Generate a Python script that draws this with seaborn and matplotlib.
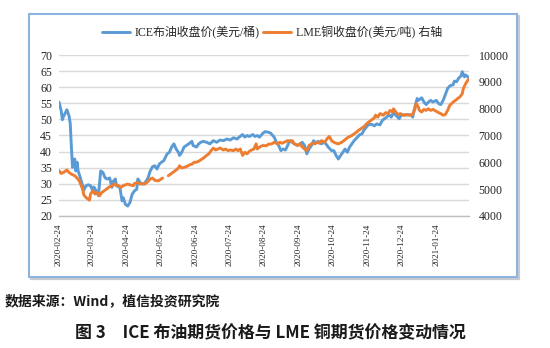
import numpy as np
import pandas as pd
import matplotlib
matplotlib.use("Agg")
import matplotlib.pyplot as plt
import matplotlib.dates as mdates
from matplotlib.lines import Line2D
from matplotlib.patches import Rectangle
import seaborn as sns

# ICE Brent front-month close, USD/bbl
brent_dates = [
    "2020-02-24", "2020-02-26", "2020-02-27", "2020-02-28", "2020-03-01", "2020-03-02",
    "2020-03-04", "2020-03-05", "2020-03-06", "2020-03-07", "2020-03-09", "2020-03-10",
    "2020-03-11", "2020-03-12", "2020-03-14", "2020-03-16", "2020-03-17", "2020-03-19",
    "2020-03-21", "2020-03-23", "2020-03-25", "2020-03-26", "2020-03-28", "2020-03-30",
    "2020-04-01", "2020-04-03", "2020-04-05", "2020-04-07", "2020-04-09", "2020-04-11",
    "2020-04-12", "2020-04-14", "2020-04-15", "2020-04-18", "2020-04-20", "2020-04-21",
    "2020-04-23", "2020-04-25", "2020-04-27", "2020-04-29", "2020-05-01", "2020-05-03",
    "2020-05-04", "2020-05-06", "2020-05-08", "2020-05-10", "2020-05-13", "2020-05-15",
    "2020-05-17", "2020-05-19", "2020-05-21", "2020-05-23", "2020-05-25", "2020-05-27",
    "2020-05-30", "2020-06-01", "2020-06-03", "2020-06-05", "2020-06-07", "2020-06-09",
    "2020-06-10", "2020-06-12", "2020-06-14", "2020-06-16", "2020-06-19", "2020-06-21",
    "2020-06-22", "2020-06-25", "2020-06-27", "2020-06-29", "2020-07-01", "2020-07-04",
    "2020-07-07", "2020-07-10", "2020-07-13", "2020-07-16", "2020-07-19", "2020-07-22",
    "2020-07-25", "2020-07-28", "2020-07-31", "2020-08-02", "2020-08-05", "2020-08-07",
    "2020-08-09", "2020-08-11", "2020-08-14", "2020-08-16", "2020-08-18", "2020-08-20",
    "2020-08-23", "2020-08-25", "2020-08-28", "2020-08-30", "2020-09-02", "2020-09-04",
    "2020-09-06", "2020-09-08", "2020-09-10", "2020-09-12", "2020-09-14", "2020-09-16",
    "2020-09-18", "2020-09-20", "2020-09-23", "2020-09-25", "2020-09-27", "2020-09-29",
    "2020-10-01", "2020-10-03", "2020-10-06", "2020-10-07", "2020-10-09", "2020-10-11",
    "2020-10-14", "2020-10-16", "2020-10-18", "2020-10-20", "2020-10-23", "2020-10-25",
    "2020-10-27", "2020-10-29", "2020-10-31", "2020-11-02", "2020-11-04", "2020-11-06",
    "2020-11-08", "2020-11-10", "2020-11-12", "2020-11-15", "2020-11-17", "2020-11-19",
    "2020-11-21", "2020-11-24", "2020-11-26", "2020-11-28", "2020-11-30", "2020-12-02",
    "2020-12-05", "2020-12-07", "2020-12-09", "2020-12-11", "2020-12-13", "2020-12-15",
    "2020-12-17", "2020-12-19", "2020-12-22", "2020-12-24", "2020-12-27", "2020-12-30",
    "2021-01-02", "2021-01-03", "2021-01-05", "2021-01-07", "2021-01-08", "2021-01-11",
    "2021-01-13", "2021-01-15", "2021-01-17", "2021-01-19", "2021-01-21", "2021-01-24",
    "2021-01-26", "2021-01-28", "2021-01-30", "2021-02-01", "2021-02-03", "2021-02-05",
    "2021-02-08", "2021-02-09", "2021-02-11", "2021-02-13", "2021-02-15", "2021-02-16",
    "2021-02-18", "2021-02-19", "2021-02-22",
]
brent_close = [
    55.4, 52.6, 49.9, 50.9, 52.3, 53.0,
    51.0, 48.6, 41.4, 35.1, 37.7, 34.0,
    36.7, 34.0, 31.8, 29.4, 28.0, 29.4,
    29.7, 29.4, 27.8, 29.0, 27.8, 26.3,
    34.0, 33.5, 31.8, 31.5, 31.8, 28.9,
    30.7, 31.5, 29.4, 28.9, 24.7, 25.7,
    23.6, 23.1, 24.2, 26.8, 27.8, 28.3,
    31.5, 30.4, 29.9, 30.1, 31.8, 34.0,
    35.3, 35.6, 34.6, 36.1, 36.7, 37.2,
    39.3, 39.8, 41.4, 42.4, 40.8, 39.8,
    38.8, 39.8, 41.4, 41.9, 42.6, 43.2,
    41.9, 41.4, 42.4, 42.9, 43.2, 42.9,
    42.4, 43.4, 42.9, 43.6, 43.4, 43.9,
    43.6, 44.3, 43.9, 44.5, 45.3, 44.5,
    45.0, 44.7, 45.3, 44.7, 45.0, 44.5,
    45.7, 46.2, 46.0, 45.7, 44.5, 42.9,
    41.9, 40.3, 40.8, 40.5, 41.9, 43.4,
    42.9, 42.4, 41.9, 42.4, 42.9, 41.9,
    39.3, 40.8, 42.4, 43.4, 42.6, 43.2,
    42.4, 42.9, 42.4, 41.4, 40.3, 40.3,
    38.8, 37.7, 38.8, 39.8, 40.8, 39.8,
    41.4, 42.4, 43.4, 44.5, 45.3, 45.5,
    46.8, 48.1, 48.5, 48.4, 48.0, 48.6,
    48.3, 49.7, 50.2, 50.7, 51.5, 50.7,
    52.1, 51.3, 50.2, 51.5, 51.3, 51.5,
    51.3, 50.7, 53.9, 56.5, 55.9, 56.7,
    55.4, 54.6, 55.4, 55.9, 55.4, 55.9,
    54.9, 54.6, 55.9, 57.7, 59.6, 60.4,
    60.8, 61.9, 61.7, 62.9, 63.5, 64.8,
    63.2, 63.8, 62.9,
]

# LME copper close, USD/t (NaN = no print)
copper_dates = [
    "2020-02-24", "2020-02-26", "2020-02-29", "2020-03-02", "2020-03-04", "2020-03-06",
    "2020-03-09", "2020-03-11", "2020-03-13", "2020-03-14", "2020-03-16", "2020-03-17",
    "2020-03-19", "2020-03-20", "2020-03-22", "2020-03-23", "2020-03-25", "2020-03-27",
    "2020-03-29", "2020-03-31", "2020-04-02", "2020-04-04", "2020-04-06", "2020-04-08",
    "2020-04-11", "2020-04-13", "2020-04-15", "2020-04-17", "2020-04-19", "2020-04-21",
    "2020-04-23", "2020-04-25", "2020-04-28", "2020-04-30", "2020-05-01", "2020-05-04",
    "2020-05-06", "2020-05-08", "2020-05-10", "2020-05-13", "2020-05-15", "2020-05-17",
    "2020-05-19", "2020-05-22", "2020-05-24", "2020-05-26", "2020-05-28", "2020-05-31",
    "2020-06-02", "2020-06-04", "2020-06-07", "2020-06-09", "2020-06-10", "2020-06-12",
    "2020-06-14", "2020-06-16", "2020-06-19", "2020-06-21", "2020-06-23", "2020-06-25",
    "2020-06-27", "2020-06-30", "2020-07-02", "2020-07-04", "2020-07-06", "2020-07-08",
    "2020-07-10", "2020-07-12", "2020-07-14", "2020-07-16", "2020-07-19", "2020-07-21",
    "2020-07-23", "2020-07-25", "2020-07-28", "2020-07-30", "2020-08-01", "2020-08-03",
    "2020-08-05", "2020-08-07", "2020-08-09", "2020-08-11", "2020-08-13", "2020-08-15",
    "2020-08-17", "2020-08-18", "2020-08-20", "2020-08-23", "2020-08-26", "2020-08-28",
    "2020-08-31", "2020-09-02", "2020-09-05", "2020-09-07", "2020-09-09", "2020-09-11",
    "2020-09-14", "2020-09-16", "2020-09-18", "2020-09-20", "2020-09-23", "2020-09-25",
    "2020-09-27", "2020-09-29", "2020-10-01", "2020-10-03", "2020-10-06", "2020-10-08",
    "2020-10-10", "2020-10-12", "2020-10-14", "2020-10-17", "2020-10-19", "2020-10-21",
    "2020-10-23", "2020-10-25", "2020-10-27", "2020-10-29", "2020-11-01", "2020-11-03",
    "2020-11-05", "2020-11-07", "2020-11-10", "2020-11-12", "2020-11-14", "2020-11-16",
    "2020-11-18", "2020-11-21", "2020-11-23", "2020-11-25", "2020-11-27", "2020-11-30",
    "2020-12-01", "2020-12-03", "2020-12-05", "2020-12-08", "2020-12-10", "2020-12-12",
    "2020-12-14", "2020-12-16", "2020-12-17", "2020-12-19", "2020-12-21", "2020-12-23",
    "2020-12-25", "2020-12-28", "2020-12-31", "2021-01-03", "2021-01-05", "2021-01-06",
    "2021-01-08", "2021-01-09", "2021-01-11", "2021-01-13", "2021-01-15", "2021-01-17",
    "2021-01-19", "2021-01-21", "2021-01-24", "2021-01-26", "2021-01-28", "2021-01-30",
    "2021-02-01", "2021-02-03", "2021-02-05", "2021-02-08", "2021-02-10", "2021-02-12",
    "2021-02-14", "2021-02-16", "2021-02-17", "2021-02-19", "2021-02-21", "2021-02-22",
]
copper_close = [
    5690, 5584, 5650, 5716, 5620, 5560,
    5500, 5416, 5308, 5212, 4996, 4792,
    4684, 4660, 4588, 4816, 4936, 4816,
    4876, 4756, 4876, 4936, 4996, 5068,
    5128, 5188, 5152, 5128, 5068, 5128,
    5164, 5188, 5152, 5128, 5212, 5248,
    5188, 5212, 5188, 5284, 5380, 5416,
    5332, 5308, 5356, 5416, np.nan, 5500,
    5560, 5620, 5716, 5788, 5872, 5788,
    5812, 5836, 5908, 5932, 6004, 6004,
    6040, 6124, 6184, 6256, 6316, 6436,
    6532, 6460, 6496, 6532, 6460, 6496,
    6436, 6460, 6436, 6496, 6436, 6496,
    6256, 6376, 6316, 6412, 6460, 6496,
    6688, 6496, 6568, 6628, 6616, 6676,
    6688, 6748, 6688, 6748, 6712, 6748,
    6808, 6784, 6808, 6688, 6628, 6688,
    6568, 6496, 6436, 6628, 6712, 6688,
    6748, 6712, 6808, 6748, 6880, 6964,
    6808, 6748, 6712, 6688, 6748, 6808,
    6880, 6940, 7000, 7060, 7120, 7192,
    7252, 7336, 7432, 7504, 7564, 7660,
    7756, 7684, 7816, 7756, 7852, 7816,
    7936, 7876, 7996, 7876, 7780, 7816,
    7756, 7780, 7756, 7780, 7996, 8188,
    8068, 7936, 7876, 7972, 7936, 7996,
    7936, 7972, 7900, 7852, 7816, 7756,
    7780, 7936, 8128, 8248, 8308, 8380,
    8440, 8560, 8752, 8932, 9064, 9100,
]

legend_labels = ["ICE布油收盘价(美元/桶)", "LME铜收盘价(美元/吨) 右轴"]
oil_ticks = [20, 25, 30, 35, 40, 45, 50, 55, 60, 65, 70]
copper_ticks = [4000, 5000, 6000, 7000, 8000, 9000, 10000]
month_ticks = ["2020-02-24", "2020-03-24", "2020-04-24", "2020-05-24", "2020-06-24",
               "2020-07-24", "2020-08-24", "2020-09-24", "2020-10-24", "2020-11-24",
               "2020-12-24", "2021-01-24"]
source_note = "数据来源：Wind，植信投资研究院"
caption = "图 3　ICE 布油期货价格与 LME 铜期货价格变动情况"

BLUE = "#5B9BD5"
ORANGE = "#ED7D31"
GRID = "#D9D9D9"
INK = "#262626"
W, H = 550, 348

sns.set_theme(style="white")
plt.rcParams["font.family"] = ["Liberation Serif", "Noto Sans CJK SC"]

oil = pd.DataFrame({"date": pd.to_datetime(brent_dates), "price": brent_close})
cu = pd.DataFrame({"date": pd.to_datetime(copper_dates), "price": copper_close})
cu["segment"] = cu["price"].isna().cumsum()
cu = cu.dropna()

fig = plt.figure(figsize=(W / 100, H / 100), dpi=100)
fig.patch.set_facecolor("white")

# chart-area frame with a soft drop shadow, kept beneath the axes
fig.patches.append(Rectangle((31 / W, 1 - 279 / H), 488 / W, 263 / H, transform=fig.transFigure,
                             facecolor="none", edgecolor="#C8CBD0", lw=1.6, zorder=-2))
fig.patches.append(Rectangle((29 / W, 1 - 277 / H), 488 / W, 263 / H, transform=fig.transFigure,
                             facecolor="white", edgecolor="#8DB3DF", lw=1.5, zorder=-1))

ax = fig.add_axes([59 / W, 1 - 216 / H, (469 - 59) / W, 161 / H])
ax.set_facecolor("none")
ax2 = ax.twinx()
ax2.set_facecolor("none")

sns.lineplot(data=oil, x="date", y="price", ax=ax, color=BLUE, lw=2.1, legend=False)
sns.lineplot(data=cu, x="date", y="price", units="segment", estimator=None, ax=ax2,
             color=ORANGE, lw=2.1, legend=False)

ax.set_ylim(20, 70)
ax2.set_ylim(4000, 10000)
ax.set_xlim(oil["date"].iloc[0], oil["date"].iloc[-1])
ax.set_yticks(oil_ticks)
ax2.set_yticks(copper_ticks)
ax.set_xticks(pd.to_datetime(month_ticks))
ax.xaxis.set_major_formatter(mdates.DateFormatter("%Y-%m-%d"))

ax.yaxis.grid(True, color=GRID, lw=1.0)
ax.xaxis.grid(False)
ax2.grid(False)
ax.set_axisbelow(True)

for a in (ax, ax2):
    for side in ("top", "left", "right", "bottom"):
        a.spines[side].set_visible(False)
    a.set_xlabel("")
    a.set_ylabel("")
ax.spines["bottom"].set_visible(True)
ax.spines["bottom"].set_color("#BFBFBF")
ax.spines["bottom"].set_linewidth(1.0)

ax.tick_params(axis="x", which="major", direction="out", length=4, width=0.8,
               color="#BFBFBF", pad=1.5, labelsize=6.6, labelcolor=INK, labelrotation=90)
ax.tick_params(axis="y", length=0, pad=5, labelsize=8.6, labelcolor=INK)
ax2.tick_params(axis="y", length=0, pad=7, labelsize=8.6, labelcolor=INK)

handles = [Line2D([], [], color=BLUE, lw=2.1), Line2D([], [], color=ORANGE, lw=2.1)]
fig.legend(handles, legend_labels, loc="center", bbox_to_anchor=(272 / W, 1 - 33 / H),
           ncol=2, frameon=False, fontsize=8.6, handlelength=2.3, handletextpad=0.4,
           columnspacing=0.3, borderpad=0, borderaxespad=0)

fig.text(5 / W, 1 - 301 / H, source_note, ha="left", va="center", fontsize=10.0,
         fontweight="bold", family=["Noto Sans CJK SC", "DejaVu Sans"], color="#1A1A1A")
fig.text(270 / W, 1 - 333 / H, caption, ha="center", va="center", fontsize=12.2,
         fontweight="bold", family=["Noto Sans CJK SC", "DejaVu Sans"], color="#1A1A1A")

fig.savefig("out.png", dpi=100, facecolor="white")
